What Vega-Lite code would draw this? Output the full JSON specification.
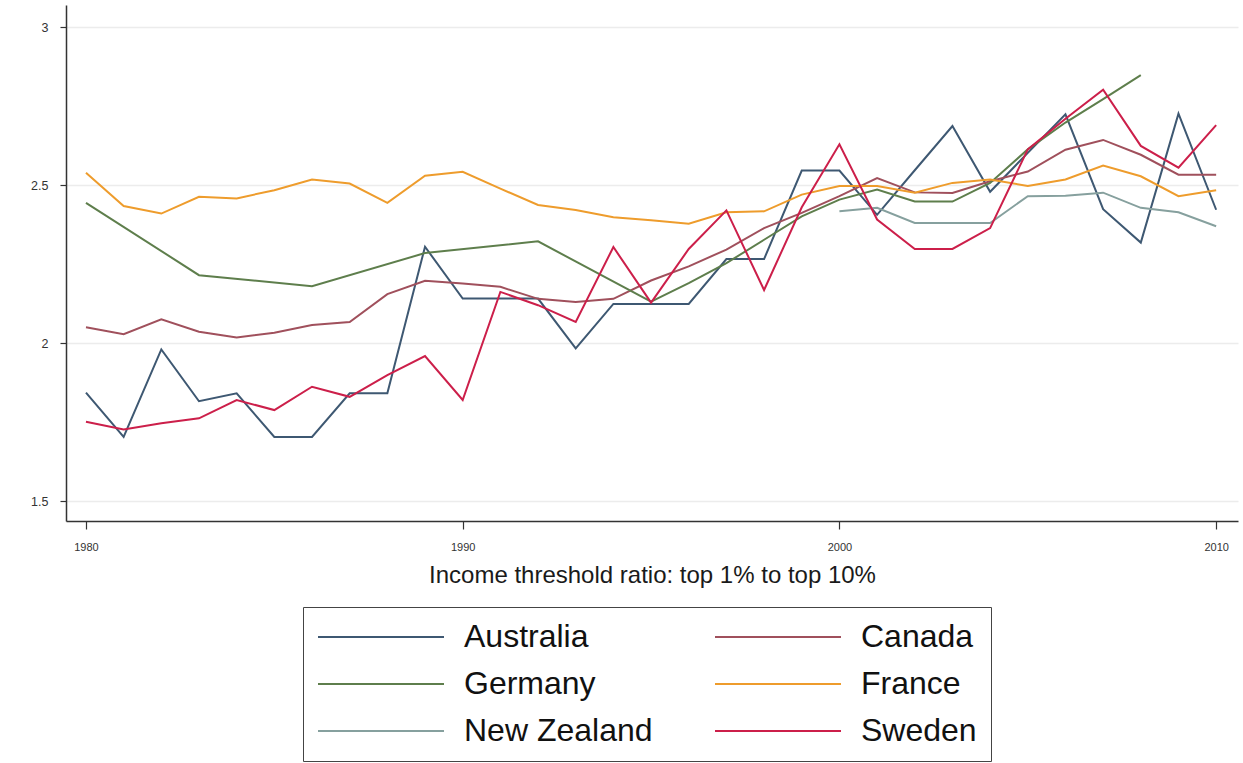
{
  "$schema": "https://vega.github.io/schema/vega-lite/v6.json",
  "width": 1172,
  "height": 516,
  "autosize": {"type": "none"},
  "padding": {"left": 66, "top": 5, "right": 5, "bottom": 242},
  "background": "white",
  "config": {"view": {"stroke": null}, "font": "Liberation Sans"},
  "datasets": {
    "d": [
      {"country":"Australia","year":1980,"value":1.843},{"country":"Australia","year":1981,"value":1.703},{"country":"Australia","year":1982,"value":1.98},{"country":"Australia","year":1983,"value":1.816},{"country":"Australia","year":1984,"value":1.841},{"country":"Australia","year":1985,"value":1.703},{"country":"Australia","year":1986,"value":1.703},{"country":"Australia","year":1987,"value":1.841},{"country":"Australia","year":1988,"value":1.841},{"country":"Australia","year":1989,"value":2.305},{"country":"Australia","year":1990,"value":2.141},{"country":"Australia","year":1991,"value":2.141},{"country":"Australia","year":1992,"value":2.141},{"country":"Australia","year":1993,"value":1.983},{"country":"Australia","year":1994,"value":2.124},{"country":"Australia","year":1995,"value":2.124},{"country":"Australia","year":1996,"value":2.124},{"country":"Australia","year":1997,"value":2.266},{"country":"Australia","year":1998,"value":2.266},{"country":"Australia","year":1999,"value":2.546},{"country":"Australia","year":2000,"value":2.546},{"country":"Australia","year":2001,"value":2.406},{"country":"Australia","year":2002,"value":2.547},{"country":"Australia","year":2003,"value":2.687},{"country":"Australia","year":2004,"value":2.479},{"country":"Australia","year":2005,"value":2.602},{"country":"Australia","year":2006,"value":2.724},{"country":"Australia","year":2007,"value":2.424},{"country":"Australia","year":2008,"value":2.318},{"country":"Australia","year":2009,"value":2.726},{"country":"Australia","year":2010,"value":2.422},
      {"country":"Canada","year":1980,"value":2.05},{"country":"Canada","year":1981,"value":2.028},{"country":"Canada","year":1982,"value":2.075},{"country":"Canada","year":1983,"value":2.036},{"country":"Canada","year":1984,"value":2.018},{"country":"Canada","year":1985,"value":2.033},{"country":"Canada","year":1986,"value":2.057},{"country":"Canada","year":1987,"value":2.067},{"country":"Canada","year":1988,"value":2.155},{"country":"Canada","year":1989,"value":2.197},{"country":"Canada","year":1990,"value":2.189},{"country":"Canada","year":1991,"value":2.178},{"country":"Canada","year":1992,"value":2.14},{"country":"Canada","year":1993,"value":2.13},{"country":"Canada","year":1994,"value":2.14},{"country":"Canada","year":1995,"value":2.198},{"country":"Canada","year":1996,"value":2.243},{"country":"Canada","year":1997,"value":2.296},{"country":"Canada","year":1998,"value":2.364},{"country":"Canada","year":1999,"value":2.412},{"country":"Canada","year":2000,"value":2.465},{"country":"Canada","year":2001,"value":2.522},{"country":"Canada","year":2002,"value":2.477},{"country":"Canada","year":2003,"value":2.475},{"country":"Canada","year":2004,"value":2.512},{"country":"Canada","year":2005,"value":2.543},{"country":"Canada","year":2006,"value":2.612},{"country":"Canada","year":2007,"value":2.643},{"country":"Canada","year":2008,"value":2.596},{"country":"Canada","year":2009,"value":2.533},{"country":"Canada","year":2010,"value":2.533},
      {"country":"Germany","year":1980,"value":2.444},{"country":"Germany","year":1983,"value":2.215},{"country":"Germany","year":1986,"value":2.18},{"country":"Germany","year":1989,"value":2.285},{"country":"Germany","year":1992,"value":2.322},{"country":"Germany","year":1995,"value":2.131},{"country":"Germany","year":1996,"value":2.19},{"country":"Germany","year":1997,"value":2.253},{"country":"Germany","year":1998,"value":2.327},{"country":"Germany","year":1999,"value":2.401},{"country":"Germany","year":2000,"value":2.454},{"country":"Germany","year":2001,"value":2.486},{"country":"Germany","year":2002,"value":2.448},{"country":"Germany","year":2003,"value":2.448},{"country":"Germany","year":2004,"value":2.507},{"country":"Germany","year":2005,"value":2.613},{"country":"Germany","year":2006,"value":2.698},{"country":"Germany","year":2007,"value":2.772},{"country":"Germany","year":2008,"value":2.848},
      {"country":"France","year":1980,"value":2.539},{"country":"France","year":1981,"value":2.434},{"country":"France","year":1982,"value":2.41},{"country":"France","year":1983,"value":2.463},{"country":"France","year":1984,"value":2.458},{"country":"France","year":1985,"value":2.484},{"country":"France","year":1986,"value":2.518},{"country":"France","year":1987,"value":2.505},{"country":"France","year":1988,"value":2.444},{"country":"France","year":1989,"value":2.53},{"country":"France","year":1990,"value":2.542},{"country":"France","year":1991,"value":2.489},{"country":"France","year":1992,"value":2.437},{"country":"France","year":1993,"value":2.421},{"country":"France","year":1994,"value":2.398},{"country":"France","year":1995,"value":2.389},{"country":"France","year":1996,"value":2.378},{"country":"France","year":1997,"value":2.414},{"country":"France","year":1998,"value":2.417},{"country":"France","year":1999,"value":2.47},{"country":"France","year":2000,"value":2.497},{"country":"France","year":2001,"value":2.497},{"country":"France","year":2002,"value":2.476},{"country":"France","year":2003,"value":2.507},{"country":"France","year":2004,"value":2.518},{"country":"France","year":2005,"value":2.497},{"country":"France","year":2006,"value":2.518},{"country":"France","year":2007,"value":2.562},{"country":"France","year":2008,"value":2.528},{"country":"France","year":2009,"value":2.465},{"country":"France","year":2010,"value":2.484},
      {"country":"New Zealand","year":2000,"value":2.417},{"country":"New Zealand","year":2001,"value":2.428},{"country":"New Zealand","year":2002,"value":2.38},{"country":"New Zealand","year":2003,"value":2.38},{"country":"New Zealand","year":2004,"value":2.38},{"country":"New Zealand","year":2005,"value":2.465},{"country":"New Zealand","year":2006,"value":2.466},{"country":"New Zealand","year":2007,"value":2.476},{"country":"New Zealand","year":2008,"value":2.428},{"country":"New Zealand","year":2009,"value":2.414},{"country":"New Zealand","year":2010,"value":2.37},
      {"country":"Sweden","year":1980,"value":1.751},{"country":"Sweden","year":1981,"value":1.727},{"country":"Sweden","year":1982,"value":1.746},{"country":"Sweden","year":1983,"value":1.762},{"country":"Sweden","year":1984,"value":1.82},{"country":"Sweden","year":1985,"value":1.788},{"country":"Sweden","year":1986,"value":1.862},{"country":"Sweden","year":1987,"value":1.83},{"country":"Sweden","year":1988,"value":1.899},{"country":"Sweden","year":1989,"value":1.959},{"country":"Sweden","year":1990,"value":1.82},{"country":"Sweden","year":1991,"value":2.162},{"country":"Sweden","year":1992,"value":2.12},{"country":"Sweden","year":1993,"value":2.067},{"country":"Sweden","year":1994,"value":2.304},{"country":"Sweden","year":1995,"value":2.128},{"country":"Sweden","year":1996,"value":2.298},{"country":"Sweden","year":1997,"value":2.42},{"country":"Sweden","year":1998,"value":2.168},{"country":"Sweden","year":1999,"value":2.43},{"country":"Sweden","year":2000,"value":2.629},{"country":"Sweden","year":2001,"value":2.391},{"country":"Sweden","year":2002,"value":2.298},{"country":"Sweden","year":2003,"value":2.298},{"country":"Sweden","year":2004,"value":2.364},{"country":"Sweden","year":2005,"value":2.613},{"country":"Sweden","year":2006,"value":2.71},{"country":"Sweden","year":2007,"value":2.802},{"country":"Sweden","year":2008,"value":2.624},{"country":"Sweden","year":2009,"value":2.555},{"country":"Sweden","year":2010,"value":2.69}
    ]
  },
  "data": {"name": "d"},
  "mark": {"type": "line", "strokeWidth": 2, "clip": true},
  "encoding": {
    "x": {
      "field": "year", "type": "quantitative",
      "scale": {"domain": [1979.47, 2010.58], "nice": false, "zero": false},
      "axis": {
        "values": [1980, 1990, 2000, 2010], "format": "d",
        "grid": false, "tickSize": 8, "tickColor": "#333", "tickWidth": 1.2,
        "domainColor": "#333", "domainWidth": 1.5,
        "labelFontSize": 11, "labelColor": "#333", "labelPadding": 12,
        "title": "Income threshold ratio: top 1% to top 10%",
        "titleFontSize": 24, "titleFontWeight": "normal", "titleColor": "#1a1a1a", "titlePadding": 11
      }
    },
    "y": {
      "field": "value", "type": "quantitative",
      "scale": {"domain": [1.437, 3.07], "nice": false, "zero": false},
      "axis": {
        "values": [1.5, 2, 2.5, 3], "format": "~g",
        "grid": true, "gridColor": "#ececec", "gridWidth": 1.5,
        "tickSize": 6, "tickColor": "#333", "tickWidth": 1.2,
        "domainColor": "#333", "domainWidth": 1.5,
        "labelFontSize": 12.5, "labelColor": "#333", "labelPadding": 12,
        "title": null
      }
    },
    "color": {
      "field": "country", "type": "nominal",
      "scale": {
        "domain": ["Australia", "Germany", "New Zealand", "Canada", "France", "Sweden"],
        "range": ["#3e5872", "#5e7e4c", "#86a09e", "#a0505c", "#ee9c2c", "#cc1f4a"]
      },
      "legend": {
        "title": null, "orient": "none", "legendX": 237, "legendY": 602,
        "columns": 2, "columnPadding": 58, "rowPadding": 15,
        "padding": 14, "strokeColor": "#444",
        "symbolType": "M-1.5,0H11.1", "symbolSize": 400, "symbolStrokeWidth": 2,
        "labelFontSize": 32, "labelColor": "#111", "labelOffset": 115,
        "labelLimit": 400
      }
    }
  }
}
